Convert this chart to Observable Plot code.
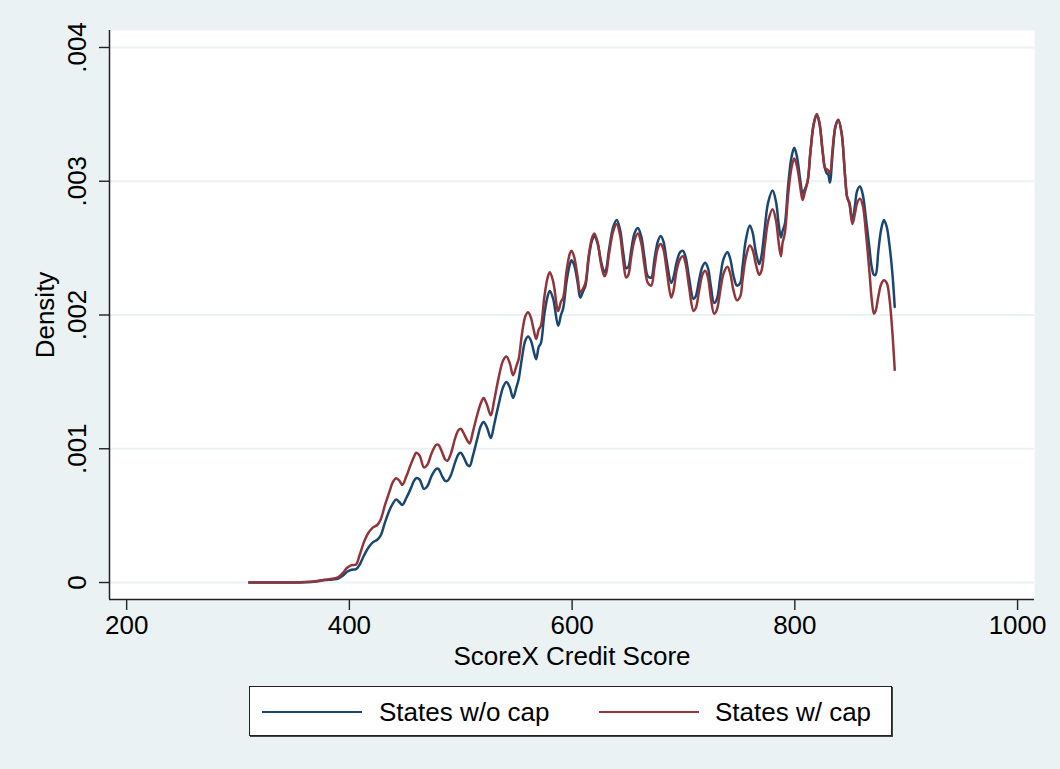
<!DOCTYPE html>
<html>
<head>
<meta charset="utf-8">
<script src="https://cdn.jsdelivr.net/npm/d3@7"></script>
<script src="https://cdn.jsdelivr.net/npm/@observablehq/plot@0.6"></script>
<style>
  html, body { margin: 0; padding: 0; background: #EAF2F3; }
  body { width: 1060px; height: 769px; overflow: hidden; font-family: "Liberation Sans", Arial, Helvetica, sans-serif; }
  #chart svg { display: block; }
  #legend { position: relative; margin-left: 249px; margin-top: 6px; width: 641px; height: 48px; background: #fff; border: 1px solid #222; box-shadow: 1px 1px 0 #444; }
  #legend .sw { position: absolute; top: 24px; height: 0; border-top: 2.5px solid; }
  #legend .lb { position: absolute; top: 10px; font-size: 26px; line-height: 30px; color: #000; white-space: nowrap; }
</style>
</head>
<body>
<div id="chart"></div>
<div id="legend"></div>
<script>
// ---- data ----
const score = [310, 330, 350, 360, 370, 378, 385, 390, 394, 398, 402, 406, 409, 413, 417, 421, 425, 428, 432, 436, 439, 442, 445, 447.5, 451, 455, 458, 460, 463, 467, 470, 474, 478, 480, 483, 486, 488, 491, 495, 498, 500, 503, 506, 508, 511, 515, 518, 520.5, 523.5, 527, 530, 534, 538, 541, 544, 547, 550, 552, 555, 558, 560.5, 563, 565.5, 567.7, 570, 572, 575, 578, 580, 583, 587.5, 590, 592, 595, 598, 599.5, 602, 605, 607.4, 610, 612, 615, 618, 620, 623, 626, 629, 630.5, 633, 637, 640, 643, 646, 648.5, 650.5, 653, 656, 659, 662, 665, 668, 671, 674, 677, 679.5, 682, 685, 689, 691, 694, 697, 699.5, 702, 705, 709, 711, 714, 717, 719.5, 722, 724.5, 727.5, 730, 733, 736, 739.5, 742, 745, 748, 751, 753, 756, 759.5, 762, 765, 768, 770, 773, 776, 780, 783, 785.5, 787.5, 789, 791, 794, 797, 799.5, 802, 805, 807, 809, 811.5, 814, 817, 819.7, 822, 825, 827, 828.6, 830, 831.5, 834, 836.5, 839, 842, 845, 847, 849, 851.7, 854, 856, 858.5, 861, 864, 867, 869, 871, 872.5, 875, 877.5, 880, 882.5, 885, 887.5, 889.7];

const statesWithoutCap = [0, 0, 0, 0.000002, 0.000008, 0.000018, 0.000023, 0.00003, 0.00005, 0.00008, 0.000095, 0.0001, 0.00013, 0.0002, 0.00026, 0.0003, 0.00032, 0.00035, 0.00045, 0.00054, 0.00059, 0.00062, 0.0006, 0.00058, 0.00063, 0.0007, 0.00076, 0.00078, 0.00077, 0.0007, 0.00072, 0.0008, 0.00085, 0.00085, 0.0008, 0.00076, 0.00076, 0.0008, 0.0009, 0.00096, 0.00097, 0.00093, 0.00088, 0.00087, 0.00095, 0.00108, 0.00117, 0.0012, 0.00116, 0.00108, 0.00118, 0.00133, 0.00146, 0.0015, 0.00146, 0.00138, 0.00146, 0.00152, 0.00168, 0.00181, 0.00184, 0.00181, 0.00173, 0.00167, 0.00176, 0.00179, 0.002, 0.00214, 0.00218, 0.00212, 0.00192, 0.002, 0.00205, 0.00225, 0.00238, 0.00241, 0.00237, 0.00224, 0.00213, 0.00218, 0.00222, 0.00243, 0.00256, 0.00259, 0.00253, 0.0024, 0.00232, 0.00234, 0.00248, 0.00266, 0.00271, 0.00264, 0.00246, 0.00235, 0.00236, 0.00248, 0.00261, 0.00265, 0.00259, 0.00243, 0.00229, 0.00228, 0.00242, 0.00255, 0.00259, 0.00255, 0.0024, 0.00224, 0.00228, 0.0024, 0.00247, 0.00248, 0.00243, 0.00228, 0.00212, 0.00214, 0.00226, 0.00236, 0.00239, 0.00235, 0.00222, 0.00209, 0.00212, 0.00228, 0.00242, 0.00247, 0.00242, 0.00229, 0.00222, 0.00224, 0.00236, 0.00256, 0.00267, 0.00262, 0.00247, 0.00238, 0.00244, 0.00265, 0.00284, 0.00293, 0.00285, 0.00268, 0.00258, 0.00263, 0.00268, 0.00297, 0.00318, 0.00325, 0.00318, 0.003, 0.00291, 0.00294, 0.003, 0.00322, 0.00343, 0.0035, 0.00344, 0.00322, 0.0031, 0.00306, 0.00305, 0.00299, 0.00322, 0.00341, 0.00346, 0.00336, 0.00305, 0.00288, 0.00284, 0.0027, 0.00282, 0.00293, 0.00296, 0.0029, 0.00271, 0.0025, 0.00236, 0.0023, 0.0023, 0.00248, 0.00264, 0.00271, 0.00266, 0.00252, 0.00232, 0.00206];

const statesWithCap = [0, 0, 0, 0.000003, 0.00001, 0.00002, 0.000028, 0.00004, 0.00007, 0.00011, 0.00013, 0.000135, 0.0002, 0.0003, 0.00037, 0.00041, 0.00043, 0.00047, 0.00058, 0.00068, 0.00075, 0.00078, 0.00076, 0.00073, 0.00079, 0.00088, 0.00094, 0.00097, 0.00095, 0.00086, 0.00088, 0.00097, 0.00103, 0.00103, 0.00098, 0.00092, 0.00091, 0.00096, 0.00108, 0.00114, 0.00115, 0.00111, 0.00106, 0.00104, 0.00113, 0.00126, 0.00134, 0.00138, 0.00133, 0.00125, 0.00136, 0.00153, 0.00166, 0.00169, 0.00164, 0.00155, 0.00162, 0.00167, 0.00186, 0.00199, 0.00202, 0.00198, 0.00189, 0.00182, 0.00189, 0.00192, 0.00213, 0.00228, 0.00232, 0.00225, 0.00203, 0.0021, 0.00213, 0.00233, 0.00246, 0.00248, 0.00243, 0.00228, 0.00217, 0.0022, 0.00224, 0.00245, 0.00258, 0.00261, 0.00254, 0.00238, 0.00229, 0.00231, 0.00245, 0.00263, 0.00268, 0.0026, 0.0024, 0.00228, 0.0023, 0.00243, 0.00256, 0.00261, 0.00254, 0.00237, 0.00224, 0.00222, 0.00236, 0.0025, 0.00253, 0.00249, 0.00233, 0.00213, 0.00218, 0.00234, 0.00242, 0.00244, 0.00238, 0.00221, 0.00203, 0.00205, 0.00218, 0.0023, 0.00233, 0.00228, 0.00213, 0.00201, 0.00204, 0.00218, 0.00231, 0.00236, 0.00231, 0.00218, 0.00211, 0.00214, 0.00226, 0.00243, 0.00252, 0.00249, 0.00238, 0.0023, 0.00233, 0.00252, 0.0027, 0.00279, 0.00271, 0.00254, 0.00244, 0.00254, 0.00261, 0.0029, 0.0031, 0.00317, 0.00311, 0.00295, 0.00286, 0.00292, 0.003, 0.00322, 0.00343, 0.0035, 0.00344, 0.00322, 0.0031, 0.00309, 0.00308, 0.00306, 0.00325, 0.00341, 0.00346, 0.00336, 0.00305, 0.00288, 0.00283, 0.00268, 0.00276, 0.00284, 0.00287, 0.00282, 0.0026, 0.00232, 0.00212, 0.00201, 0.00203, 0.00214, 0.00223, 0.00226, 0.00224, 0.00212, 0.00188, 0.00159];

const seriesNames = ["States w/o cap", "States w/ cap"];
const seriesColors = ["#1A476F", "#90353B"];
const xTicks = [200, 400, 600, 800, 1000];
const yTicks = [0, 0.001, 0.002, 0.003, 0.004];
const yTickLabels = ["0", ".001", ".002", ".003", ".004"];
const xTitle = "ScoreX Credit Score";
const yTitle = "Density";
const xDomain = [184.6, 1015.2];
const yDomain = [-0.000127, 0.004127];

// ---- build table ----
const rows = [];
score.forEach((s, i) => {
  rows.push({score: s, density: statesWithoutCap[i], series: seriesNames[0]});
  rows.push({score: s, density: statesWithCap[i], series: seriesNames[1]});
});

const font = "'Liberation Sans', Arial, Helvetica, sans-serif";
const axisColor = "#222";

const chart = Plot.plot({
  width: 1060,
  height: 680,
  marginLeft: 109,
  marginRight: 26,
  marginTop: 30,
  marginBottom: 81,
  x: {domain: xDomain},
  y: {domain: yDomain},
  color: {domain: seriesNames, range: seriesColors},
  style: {background: "transparent", fontFamily: font, fontSize: "26px", color: "#000"},
  marks: [
    Plot.frame({fill: "white", stroke: "none"}),
    Plot.ruleY(yTicks, {stroke: "#EAF2F3", strokeWidth: 2}),
    Plot.axisX({ticks: xTicks, tickSize: 11, tickPadding: 5, tickFormat: d => String(d), label: null, fontSize: 26, stroke: axisColor, strokeWidth: 1.4, fill: "#000"}),
    Plot.axisY({ticks: yTicks, tickSize: 10, tickFormat: () => "", label: null, stroke: axisColor, strokeWidth: 1.4}),
    Plot.text(yTicks, {y: d => d, text: (d, i) => yTickLabels[i], frameAnchor: "left", dx: -24, rotate: -90, textAnchor: "middle", lineAnchor: "bottom", fontSize: 26, fill: "#000"}),
    Plot.ruleX([xDomain[0]], {stroke: axisColor, strokeWidth: 1.5}),
    Plot.ruleY([yDomain[0]], {stroke: axisColor, strokeWidth: 1.5}),
    Plot.line(rows, {x: "score", y: "density", z: "series", stroke: "series", strokeWidth: 2.5, curve: "catmull-rom"}),
    Plot.text([xTitle], {frameAnchor: "bottom", dy: 65, lineAnchor: "bottom", fontSize: 26, fill: "#000"}),
    Plot.text([yTitle], {frameAnchor: "left", dx: -56, rotate: -90, textAnchor: "middle", lineAnchor: "bottom", fontSize: 26, fill: "#000"})
  ]
});
document.getElementById("chart").appendChild(chart);

// ---- legend ----
const legend = document.getElementById("legend");
const swLeft = [12, 349];
const lbLeft = [129, 465];
seriesNames.forEach((name, i) => {
  const sw = document.createElement("div");
  sw.className = "sw";
  sw.style.left = swLeft[i] + "px";
  sw.style.width = "100px";
  sw.style.borderTopColor = seriesColors[i];
  legend.appendChild(sw);
  const lb = document.createElement("div");
  lb.className = "lb";
  lb.style.left = lbLeft[i] + "px";
  lb.textContent = name;
  legend.appendChild(lb);
});
</script>
</body>
</html>
